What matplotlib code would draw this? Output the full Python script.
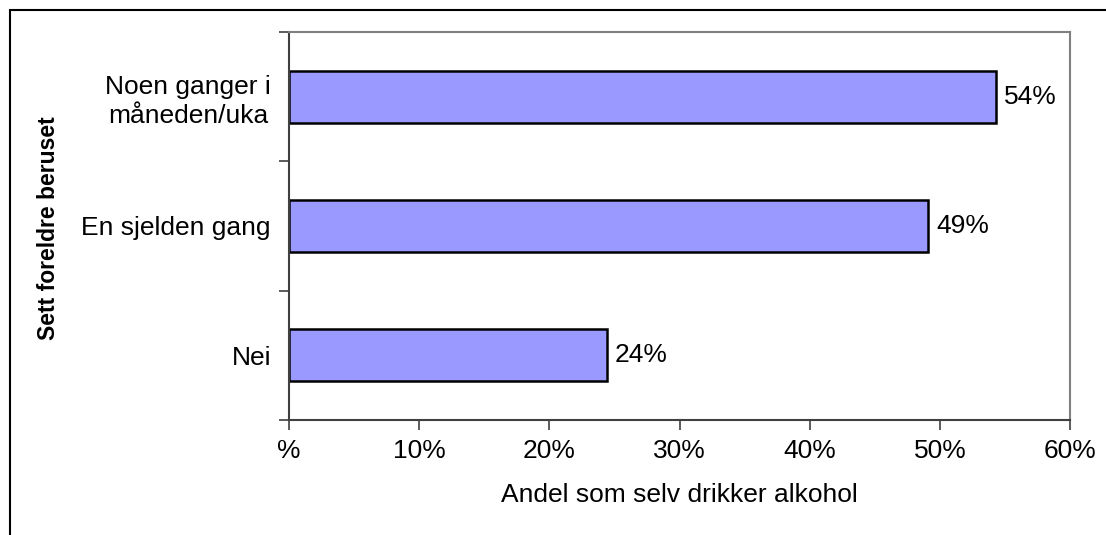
import matplotlib.pyplot as plt
from matplotlib.patches import Rectangle
from matplotlib.ticker import FixedLocator

plt.rcParams['font.family'] = ['Liberation Sans', 'DejaVu Sans']

categories = ['Nei', 'En sjelden gang', 'Noen ganger i\nmåneden/uka']
values = [24.4, 49.1, 54.3]
value_labels = ['24%', '49%', '54%']
xticks = [0, 10, 20, 30, 40, 50, 60]
xtick_labels = ['%', '10%', '20%', '30%', '40%', '50%', '60%']

W, H = 1106, 535
fig = plt.figure(figsize=(W / 100, H / 100), dpi=100)

# outer frame (only top and left edges are visible in the original crop)
fig.patches.append(Rectangle((10 / W, -0.1), 1.2, (H - 10) / H + 0.1,
                             transform=fig.transFigure, fill=False,
                             edgecolor='black', linewidth=1.5))

ax = fig.add_axes([289 / W, 1 - 420 / H, (1070 - 289) / W, (420 - 32) / H])

fs = 19
pos = range(len(categories))
ax.barh(pos, values, height=0.4, color='#9999FF', edgecolor='black', linewidth=1.8)
for p, v, lab in zip(pos, values, value_labels):
    ax.annotate(lab, (v, p), xytext=(6, 0), textcoords='offset points',
                va='center', ha='left', fontsize=fs)

ax.set_xlim(0, 60)
ax.set_ylim(-0.5, 2.5)
ax.set_xticks(xticks)
ax.set_xticklabels(xtick_labels, fontsize=fs)
ax.set_yticks(list(pos))
ax.set_yticklabels(categories, fontsize=fs, linespacing=1.27, multialignment='center')
ax.tick_params(axis='y', length=0, pad=13)
ax.yaxis.set_minor_locator(FixedLocator([-0.5, 0.5, 1.5, 2.5]))
ax.tick_params(axis='y', which='minor', length=7, width=1.2, color='#404040')
ax.tick_params(axis='x', length=7, width=1.2, color='#404040', pad=7)

for s in ['left', 'bottom']:
    ax.spines[s].set_color('#404040')
    ax.spines[s].set_linewidth(1.5)
for s in ['top', 'right']:
    ax.spines[s].set_color('#808080')
    ax.spines[s].set_linewidth(1.5)

ax.set_xlabel('Andel som selv drikker alkohol', fontsize=fs, labelpad=14)
fig.text(49 / W, 1 - 228 / H, 'Sett foreldre beruset', rotation=90,
         fontsize=16.5, fontweight='bold', ha='center', va='center')

fig.savefig('out.png', dpi=100)
